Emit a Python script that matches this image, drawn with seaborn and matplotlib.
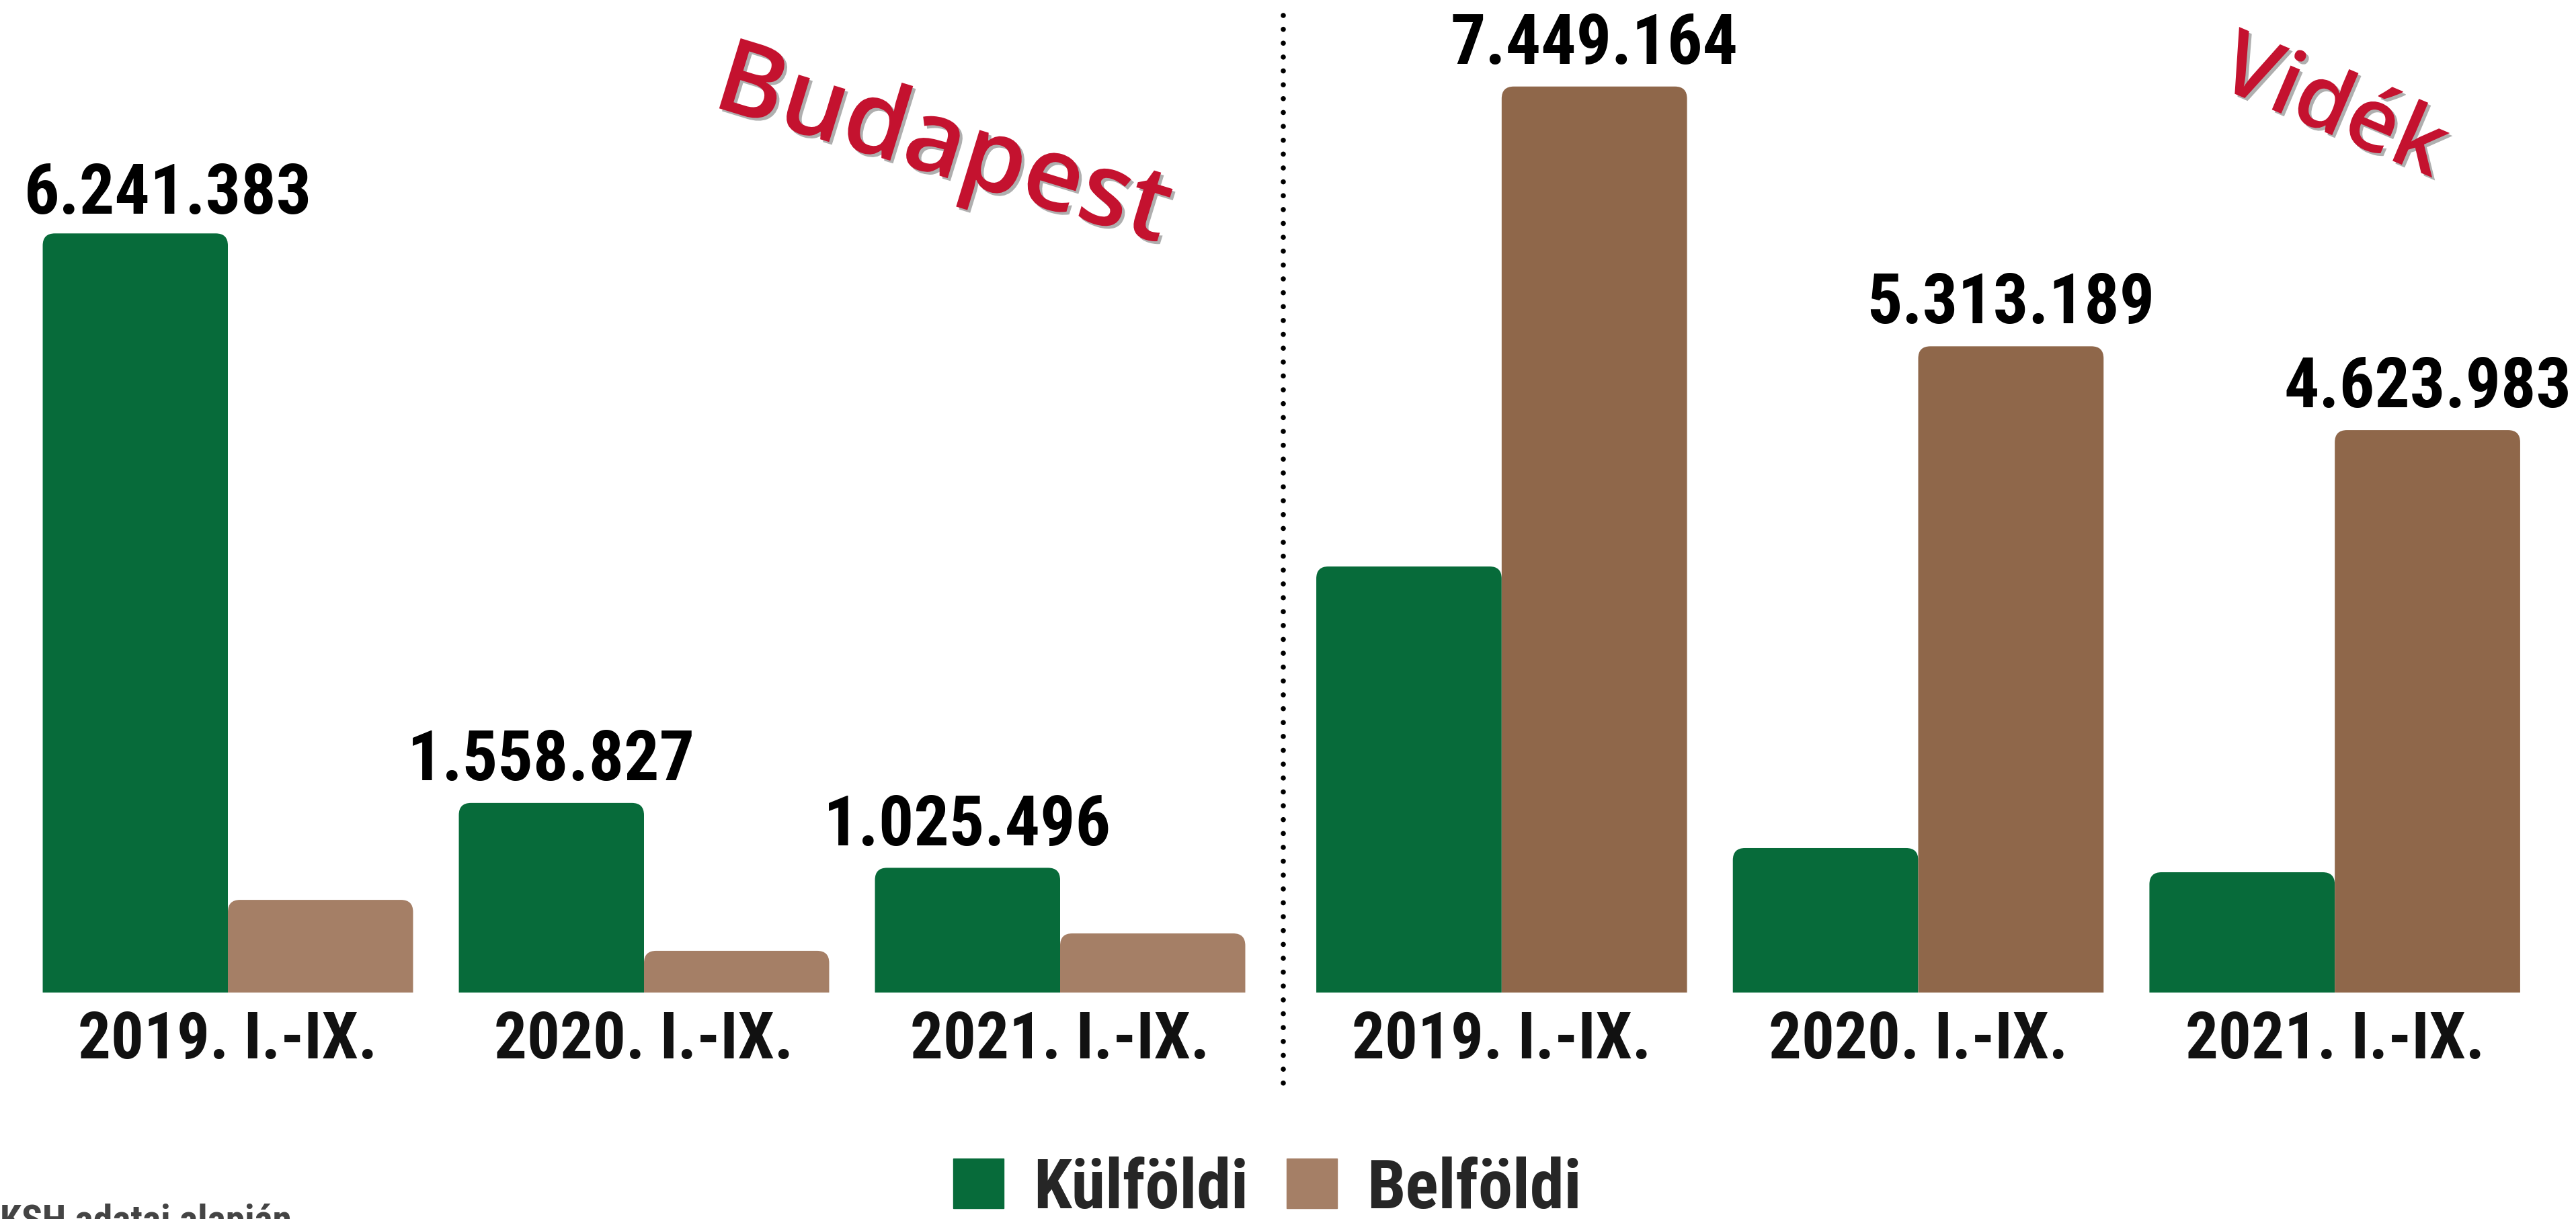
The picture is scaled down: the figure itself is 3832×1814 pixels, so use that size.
import seaborn as sns
import pandas as pd
import matplotlib.pyplot as plt
import matplotlib.patheffects as pe
from matplotlib import font_manager as fm
from matplotlib.patches import FancyBboxPatch, Patch
from matplotlib.lines import Line2D

# ---- data ----
periods = ["2019. I.-IX.", "2020. I.-IX.", "2021. I.-IX."]
series = ["Külföldi", "Belföldi"]
budapest_kulfoldi = [6241383, 1558827, 1025496]
budapest_belfoldi = [762000, 343000, 486000]
videk_kulfoldi = [3503000, 1188000, 989000]
videk_belfoldi = [7449164, 5313189, 4623983]
regions = ["Budapest", "Vidék"]
labelled_series = {"Budapest": "Külföldi", "Vidék": "Belföldi"}
source_text = "KSH adatai alapján"

green = "#076b3a"
brown_light = "#a57f66"
brown_dark = "#8f674a"
title_red = "#c4122f"

rows = []
for region, kul, bel in [("Budapest", budapest_kulfoldi, budapest_belfoldi),
                         ("Vidék", videk_kulfoldi, videk_belfoldi)]:
    for p, k, b in zip(periods, kul, bel):
        rows.append({"region": region, "period": p, "type": "Külföldi", "value": k})
        rows.append({"region": region, "period": p, "type": "Belföldi", "value": b})
df = pd.DataFrame(rows)

sns.set_style("white")

# pick the narrowest bold sans that is installed
installed = {f.name for f in fm.fontManager.ttflist}
main_font = "DejaVu Sans"
for cand in ["Roboto Condensed", "Liberation Sans Narrow", "Roboto"]:
    if cand in installed:
        main_font = cand
        break
plt.rcParams["font.family"] = [main_font, "DejaVu Sans"]

W, H = 3832, 1815
fig = plt.figure(figsize=(W / 100, H / 100), dpi=100)
renderer = fig.canvas.get_renderer()


def fit_width(txt, target_px):
    w = txt.get_window_extent(renderer).width
    txt.set_fontsize(txt.get_fontsize() * target_px / w)
    return txt.get_fontsize()


def size_for(s, target_px, **kw):
    t = fig.text(0, 0, s, fontsize=50, **kw)
    size = fit_width(t, target_px)
    t.remove()
    return size


value_size = size_for("6.241.383", 428, fontweight="bold")
tick_size = size_for("2019. I.-IX.", 445, fontweight="bold")
legend_size = size_for("Külföldi", 320, fontweight="bold")
source_size = size_for(source_text, 435, fontweight="bold")

base_px = 1478
top_px = 100
ymax = 1378 * 5525
ax_b = (H - base_px) / H
ax_h = (base_px - top_px) / H
ax_left = fig.add_axes([29.5 / W, ax_b, 1857 / W, ax_h])
ax_right = fig.add_axes([1924 / W, ax_b, 1859 / W, ax_h])

palettes = {"Budapest": [green, brown_light], "Vidék": [green, brown_dark]}

for ax, region in zip([ax_left, ax_right], regions):
    sub = df[df["region"] == region]
    sns.barplot(data=sub, x="period", y="value", hue="type", order=periods,
                hue_order=series, palette=palettes[region], width=0.89,
                saturation=1, legend=False, ax=ax)
    ax.set_xlim(-0.5, 2.5)
    ax.set_ylim(0, ymax)
    ax.set_xlabel("")
    ax.set_ylabel("")
    ax.set_yticks([])
    sns.despine(ax=ax, left=True, bottom=True)
    ax.tick_params(axis="x", length=0, pad=18)
    for lbl in ax.get_xticklabels():
        lbl.set_fontsize(tick_size)
        lbl.set_fontweight("heavy")
        lbl.set_color("#111111")

    # value labels on the taller series
    idx = series.index(labelled_series[region])
    for i, bar in enumerate(ax.containers[idx]):
        val = bar.get_height()
        txt = f"{int(val):,}".replace(",", ".")
        cx = bar.get_x() + bar.get_width() / 2
        if region == "Budapest" and i == 0:
            ax.annotate(txt, (bar.get_x(), val), xytext=(-20, 7),
                        textcoords="offset points", ha="left", va="bottom",
                        fontsize=value_size, fontweight="bold", color="black")
        else:
            ax.annotate(txt, (cx, val), xytext=(0, 10),
                        textcoords="offset points", ha="center", va="bottom",
                        fontsize=value_size, fontweight="bold", color="black")

    # rounded top corners
    px_x = 3 / (ax.get_position().width * W)
    px_y = ymax / (ax.get_position().height * H)
    rx, ry = 18 * px_x, 18 * px_y
    for bar in list(ax.patches):
        x, w, h = bar.get_x(), bar.get_width(), bar.get_height()
        fc = bar.get_facecolor()
        bar.set_visible(False)
        ax.add_patch(FancyBboxPatch((x, -ry), w, h + ry,
                                    boxstyle=f"round,pad=0,rounding_size={rx}",
                                    mutation_aspect=ry / rx, fc=fc, ec="none"))

# dotted divider
fig.add_artist(Line2D([1909 / W, 1909 / W], [1 - 24 / H, 1 - 1633 / H],
                      transform=fig.transFigure, color="black", lw=5.5,
                      dashes=(0.001, 2.7), dash_capstyle="round"))

# rotated region titles
shadow = [pe.withSimplePatchShadow(offset=(3, -3), shadow_rgbFace="#7a7a7a", alpha=0.6)]
fig.text(1402 / W, 1 - 222 / H, "Budapest", rotation=-17, ha="center", va="center",
         rotation_mode="anchor", color=title_red, fontsize=110,
         family="Open Sans", fontweight="semibold", path_effects=shadow)
fig.text(3470 / W, 1 - 165 / H, "Vidék", rotation=-23, ha="center", va="center",
         rotation_mode="anchor", color=title_red, fontsize=95,
         family="Open Sans", fontweight="semibold", path_effects=shadow)

# legend
handles = [Patch(color=green), Patch(color=brown_light)]
sq = 75 * 0.72 / legend_size
fig.legend(handles, series, loc="center", bbox_to_anchor=(0.492, 0.025), ncol=2,
           frameon=False, prop={"weight": "bold", "size": legend_size},
           handlelength=sq, handleheight=sq, handletextpad=45 * 0.72 / legend_size,
           columnspacing=56 * 0.72 / legend_size, borderpad=0)

# source
fig.text(0.0, 1 - 1791 / H, source_text, ha="left", va="top", fontsize=source_size,
         fontweight="bold", color="#444444")

fig.savefig("out.png", dpi=100)
